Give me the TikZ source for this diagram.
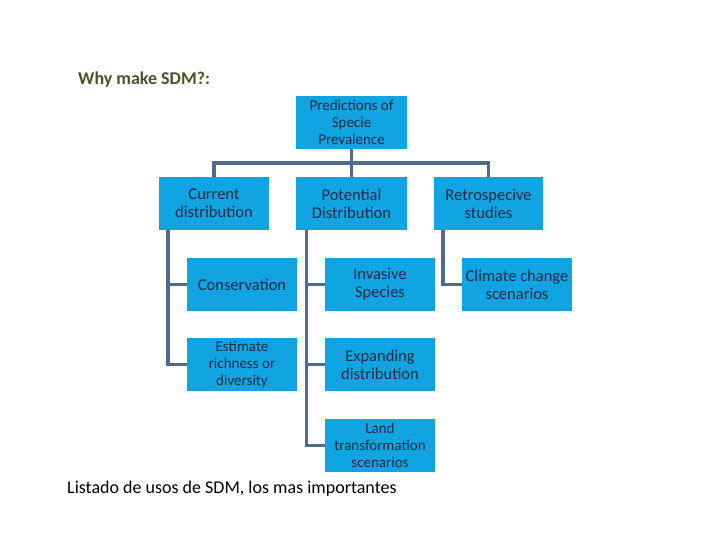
\documentclass[tikz,border=0pt]{standalone}
\usepackage{fontspec}
\setmainfont{Carlito}
\definecolor{boxfill}{HTML}{10A4E2}
\definecolor{boxtext}{HTML}{1B2A44}
\definecolor{linec}{HTML}{4E6A8E}
\definecolor{titlec}{HTML}{4A5228}
\begin{document}
\begin{tikzpicture}[x=1pt,y=-1pt,
  box/.style={fill=boxfill,draw=none,minimum width=110pt,minimum height=53pt,inner sep=1pt,align=center,text=boxtext,font=\fontsize{16.5}{18}\selectfont},
  smallbox/.style={box,font=\fontsize{15}{17.2}\selectfont},
  conn/.style={draw=linec,line width=3.5pt}]
\useasboundingbox (0,0) rectangle (720,540);
\node[anchor=west,text=titlec,font=\fontsize{18}{20}\selectfont\bfseries,inner sep=0pt] (title) at (78,80) {Why make SDM?:};
\node[smallbox,minimum width=111pt] (top) at (351.5,122.5) {Predictions of\\Specie\\Prevalence};
\node[box] (cur) at (214,203.5) {Current\\distribution};
\node[box,minimum width=111pt] (pot) at (351.5,203.5) {Potential\\Distribution};
\node[box,minimum width=109pt] (ret) at (488.5,203.5) {Retrospecive\\studies};
\node[box] (cons) at (242,284.5) {Conservation};
\node[smallbox] (est) at (242,364.5) {Estimate\\richness or\\diversity};
\node[box] (inv) at (380,284.5) {Invasive\\Species};
\node[box] (exp) at (380,364.5) {Expanding\\distribution};
\node[smallbox] (land) at (380,445.5) {Land\\transformation\\scenarios};
\node[box] (clim) at (517,284.5) {Climate change\\scenarios};
\node[anchor=west,font=\fontsize{18}{21}\selectfont,inner sep=0pt] (note) at (67,489) {Listado de usos de SDM, los mas importantes};
\coordinate (hub) at (351.5,163);
\draw[conn] (top.south) -- (hub);
\draw[conn] (cur.north) |- (hub) -| (ret.north);
\draw[conn] (hub) -- (pot.north);
\draw[conn] ([xshift=-46pt]cur.south) |- (cons.west);
\draw[conn] ([xshift=-46pt]cur.south) |- (est.west);
\draw[conn] ([xshift=-45pt]pot.south) |- (inv.west);
\draw[conn] ([xshift=-45pt]pot.south) |- (exp.west);
\draw[conn] ([xshift=-45pt]pot.south) |- (land.west);
\draw[conn] ([xshift=-45.5pt]ret.south) |- (clim.west);
\end{tikzpicture}
\end{document}
